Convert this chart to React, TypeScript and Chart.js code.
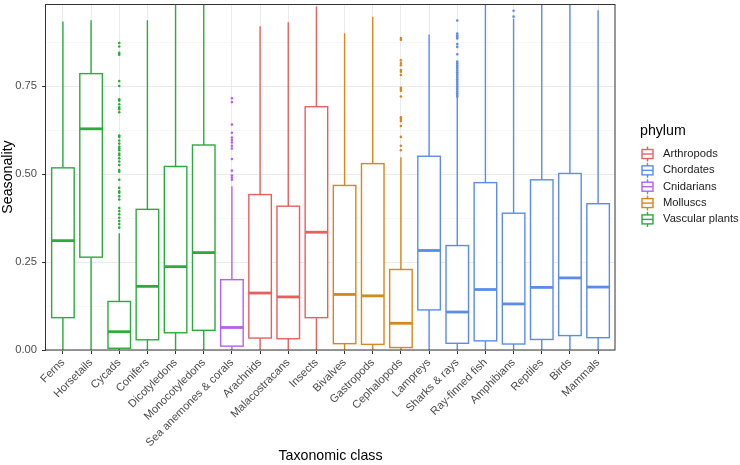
import React, { useEffect, useRef } from "react";
import { Chart, registerables } from "chart.js";

Chart.register(...registerables);

const categories = [
  "Ferns", "Horsetails", "Cycads", "Conifers", "Dicotyledons", "Monocotyledons",
  "Sea anemones & corals", "Arachnids", "Malacostracans", "Insects", "Bivalves",
  "Gastropods", "Cephalopods", "Lampreys", "Sharks & rays", "Ray-finned fish",
  "Amphibians", "Reptiles", "Birds", "Mammals",
];

const phylumOf = [
  "Vascular plants", "Vascular plants", "Vascular plants", "Vascular plants", "Vascular plants", "Vascular plants",
  "Cnidarians", "Arthropods", "Arthropods", "Arthropods", "Molluscs", "Molluscs", "Molluscs",
  "Chordates", "Chordates", "Chordates", "Chordates", "Chordates", "Chordates", "Chordates",
];

const phyla = ["Arthropods", "Chordates", "Cnidarians", "Molluscs", "Vascular plants"];
const phylumColors = ["#E8605E", "#5B8CEB", "#B462EC", "#D6871D", "#2DAA3C"];

const whiskerLow = [0, 0, 0, 0, 0, 0, 0, 0, 0, 0, 0, 0, 0, 0, 0, 0, 0, 0, 0, 0];
const q1 = [0.092, 0.264, 0.005, 0.029, 0.049, 0.056, 0.011, 0.034, 0.032, 0.092, 0.018, 0.016, 0.007, 0.114, 0.019, 0.026, 0.017, 0.030, 0.041, 0.035];
const median = [0.311, 0.629, 0.052, 0.181, 0.237, 0.277, 0.064, 0.162, 0.151, 0.335, 0.158, 0.154, 0.076, 0.283, 0.108, 0.172, 0.131, 0.178, 0.205, 0.179];
const q3 = [0.518, 0.786, 0.138, 0.400, 0.522, 0.583, 0.200, 0.442, 0.409, 0.692, 0.468, 0.530, 0.229, 0.551, 0.297, 0.476, 0.389, 0.484, 0.502, 0.416];
const whiskerHigh = [0.934, 0.938, 0.332, 0.938, 1.0, 1.0, 0.466, 0.921, 0.932, 0.977, 0.901, 0.948, 0.548, 0.897, 0.717, 1.0, 0.942, 1.0, 1.0, 0.966];

const cycadOutliers = [0.873, 0.863, 0.845, 0.840, 0.765, 0.751, 0.713, 0.709, 0.699, 0.690, 0.685, 0.676, 0.610, 0.606, 0.596, 0.587, 0.578, 0.573, 0.568, 0.559, 0.554, 0.545, 0.536, 0.526, 0.512, 0.507, 0.484, 0.461, 0.451, 0.447, 0.437, 0.428, 0.404, 0.395, 0.386, 0.376, 0.367, 0.358, 0.348];
const cnidarianOutliers = [0.716, 0.705, 0.641, 0.618, 0.604, 0.597, 0.590, 0.581, 0.573, 0.543, 0.510, 0.496, 0.490, 0.484];
const cephalopodOutliers = [0.887, 0.882, 0.824, 0.816, 0.810, 0.796, 0.791, 0.782, 0.746, 0.742, 0.737, 0.721, 0.662, 0.657, 0.651, 0.637, 0.606, 0.581, 0.568];
const sharkOutliers = [0.937, 0.900, 0.895, 0.890, 0.886, 0.870, 0.862, 0.841, 0.820, 0.815, 0.810, 0.805, 0.800, 0.795, 0.790, 0.785, 0.780, 0.775, 0.770, 0.765, 0.760, 0.755, 0.750, 0.745, 0.740, 0.735, 0.730, 0.725, 0.720];
const amphibianOutliers = [0.965, 0.948];

const outlierIndex = [2, 6, 12, 14, 16];
const outlierLists = [cycadOutliers, cnidarianOutliers, cephalopodOutliers, sharkOutliers, amphibianOutliers];

const yMajorTicks = [0, 0.25, 0.5, 0.75];
const yMajorLabels = ["0.00", "0.25", "0.50", "0.75"];
const yAllTicks = [0, 0.125, 0.25, 0.375, 0.5, 0.625, 0.75, 0.875];

const FONT = "'Liberation Sans', Arial, Helvetica, sans-serif";
const BOX_WIDTH = 0.8;
const TICK_SIZE = 11.2;
const TITLE_SIZE = 14.2;

function colorFor(i: number) {
  return phylumColors[phyla.indexOf(phylumOf[i])];
}

const boxPlugin = {
  id: "boxes",
  beforeDatasetsDraw(chart: any) {
    const { ctx, chartArea, scales } = chart;
    const x = scales.x;
    const y = scales.y;
    ctx.save();
    ctx.beginPath();
    ctx.rect(chartArea.left, chartArea.top, chartArea.right - chartArea.left, chartArea.bottom - chartArea.top);
    ctx.clip();
    categories.forEach((_, i) => {
      const color = colorFor(i);
      const cx = x.getPixelForValue(i);
      const l = x.getPixelForValue(i - BOX_WIDTH / 2);
      const r = x.getPixelForValue(i + BOX_WIDTH / 2);
      const yq1 = y.getPixelForValue(q1[i]);
      const yq3 = y.getPixelForValue(q3[i]);
      const ymed = y.getPixelForValue(median[i]);
      const ylo = y.getPixelForValue(whiskerLow[i]);
      const yhi = y.getPixelForValue(whiskerHigh[i]);
      ctx.strokeStyle = color;
      ctx.lineWidth = 1.4;
      ctx.beginPath();
      ctx.moveTo(cx, yhi);
      ctx.lineTo(cx, yq3);
      ctx.moveTo(cx, yq1);
      ctx.lineTo(cx, ylo);
      ctx.stroke();
      ctx.fillStyle = "#FFFFFF";
      ctx.fillRect(l, yq3, r - l, yq1 - yq3);
      ctx.strokeRect(l, yq3, r - l, yq1 - yq3);
      ctx.lineWidth = 2.8;
      ctx.beginPath();
      ctx.moveTo(l, ymed);
      ctx.lineTo(r, ymed);
      ctx.stroke();
    });
    ctx.restore();
  },
  afterDatasetsDraw(chart: any) {
    const { ctx, chartArea } = chart;
    ctx.save();
    ctx.strokeStyle = "#333333";
    ctx.lineWidth = 1;
    ctx.strokeRect(chartArea.left - 0.5, chartArea.top + 0.5, chartArea.right - chartArea.left + 0.5, chartArea.bottom - chartArea.top - 0.5);
    ctx.restore();
  },
  afterDraw(chart: any) {
    const { ctx } = chart;
    ctx.save();
    ctx.fillStyle = "#000000";
    ctx.textBaseline = "middle";
    ctx.textAlign = "left";
    ctx.font = `${TITLE_SIZE}px ${FONT}`;
    ctx.fillText("phylum", 640, 131.5);
    ctx.font = `${TICK_SIZE}px ${FONT}`;
    phyla.forEach((p, k) => {
      const cy = 154 + k * 16.35;
      const cx = 647.5;
      const color = phylumColors[k];
      ctx.strokeStyle = color;
      ctx.lineWidth = 1.4;
      ctx.beginPath();
      ctx.moveTo(cx, cy - 7.5);
      ctx.lineTo(cx, cy + 7.5);
      ctx.stroke();
      ctx.fillStyle = "#FFFFFF";
      ctx.fillRect(cx - 5.5, cy - 4.5, 11, 9);
      ctx.strokeRect(cx - 5.5, cy - 4.5, 11, 9);
      ctx.beginPath();
      ctx.moveTo(cx - 5.5, cy);
      ctx.lineTo(cx + 5.5, cy);
      ctx.stroke();
      ctx.fillStyle = "#1A1A1A";
      ctx.fillText(p, 663, cy);
    });
    ctx.restore();
  },
};

export default function App() {
  const canvasRef = useRef<HTMLCanvasElement | null>(null);

  useEffect(() => {
    if (!canvasRef.current) return;
    const points: { x: number; y: number }[] = [];
    const pointColors: string[] = [];
    outlierIndex.forEach((ci, k) => {
      outlierLists[k].forEach((v) => {
        points.push({ x: ci, y: v });
        pointColors.push(colorFor(ci));
      });
    });

    const chart = new Chart(canvasRef.current, {
      type: "scatter",
      data: {
        datasets: [
          {
            label: "outliers",
            data: points,
            pointRadius: 1.3,
            pointBorderWidth: 0,
            pointBackgroundColor: pointColors,
            pointBorderColor: pointColors,
          },
        ],
      },
      options: {
        animation: false,
        responsive: false,
        events: [],
        layout: { padding: { left: 0, right: 125, top: 0, bottom: 0 } },
        plugins: { legend: { display: false }, tooltip: { enabled: false } },
        scales: {
          x: {
            type: "linear",
            min: -0.6,
            max: 19.6,
            afterBuildTicks: (scale: any) => {
              scale.ticks = categories.map((_, i) => ({ value: i }));
            },
            afterFit: (scale: any) => {
              scale.height = 115;
              scale.paddingLeft = 0;
              scale.paddingRight = 0;
            },
            border: { display: false },
            grid: {
              color: "#EBEBEB",
              lineWidth: 1,
              tickColor: "#333333",
              tickLength: 4,
              tickWidth: 1,
            },
            ticks: {
              autoSkip: false,
              minRotation: 45,
              maxRotation: 45,
              padding: 2,
              color: "#4D4D4D",
              font: { family: FONT, size: TICK_SIZE },
              callback: (v: any) => categories[v as number] ?? "",
            },
            title: {
              display: true,
              text: "Taxonomic class",
              color: "#000000",
              font: { family: FONT, size: TITLE_SIZE },
              padding: { top: 0, bottom: 0 },
            },
          },
          y: {
            type: "linear",
            min: 0,
            max: 0.984,
            afterBuildTicks: (scale: any) => {
              scale.ticks = yAllTicks.map((v) => ({ value: v }));
            },
            afterFit: (scale: any) => {
              scale.width = 46;
              scale.paddingTop = 0;
              scale.paddingBottom = 0;
            },
            border: { display: false },
            grid: {
              color: (ctx: any) => (yMajorTicks.includes(ctx.tick?.value) ? "#EBEBEB" : "#F2F2F2"),
              lineWidth: (ctx: any) => (yMajorTicks.includes(ctx.tick?.value) ? 1 : 0.6),
              tickColor: (ctx: any) => (yMajorTicks.includes(ctx.tick?.value) ? "#333333" : "rgba(0,0,0,0)"),
              tickLength: 4,
              tickWidth: 1,
            },
            ticks: {
              autoSkip: false,
              padding: 5,
              color: "#4D4D4D",
              font: { family: FONT, size: TICK_SIZE },
              callback: (v: any) => {
                const k = yMajorTicks.indexOf(v as number);
                return k >= 0 ? yMajorLabels[k] : "";
              },
            },
            title: {
              display: true,
              text: "Seasonality",
              color: "#000000",
              font: { family: FONT, size: TITLE_SIZE },
              padding: { top: 0, bottom: 0 },
            },
          },
        },
      },
      plugins: [boxPlugin],
    } as any);

    return () => chart.destroy();
  }, []);

  return (
    <div style={{ position: "absolute", left: 0, top: 0, width: 740, height: 465, background: "#FFFFFF" }}>
      <canvas ref={canvasRef} width={740} height={465} style={{ display: "block" }} />
    </div>
  );
}
